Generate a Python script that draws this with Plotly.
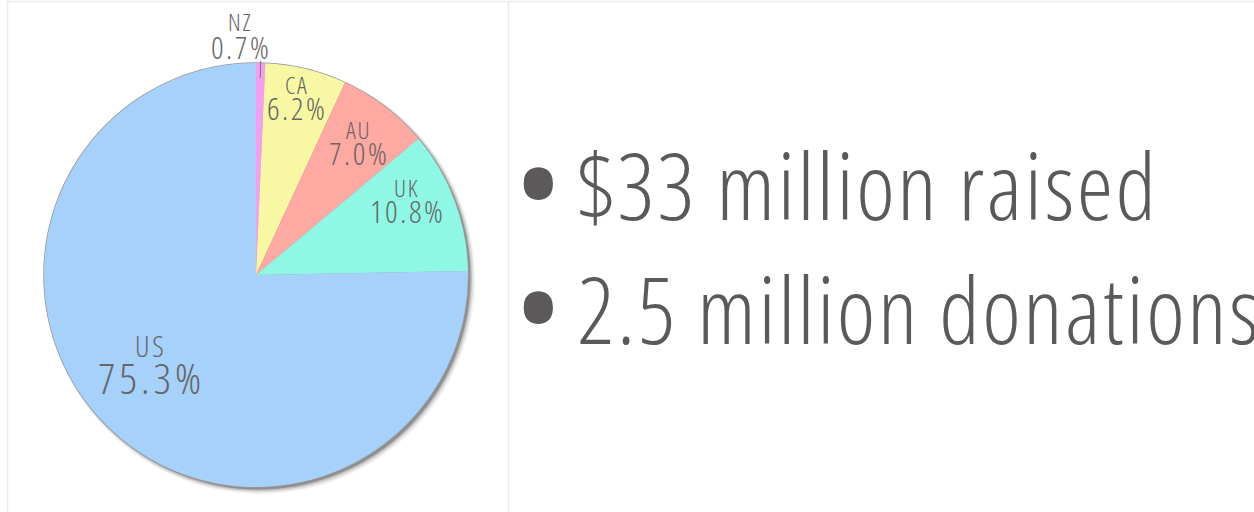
import math
import plotly.graph_objects as go

# ---- data ----
countries = ["NZ", "CA", "AU", "UK", "US"]
shares = [0.7, 6.2, 7.0, 10.8, 75.3]
slice_colors = ["#F59CF3", "#F8F8A4", "#FFA9A3", "#8FF8E5", "#A6D1FB"]
bullets = ["$33 million raised", "2.5 million donations"]

# ---- geometry (pixels) ----
W, H = 1254, 512
CX, CY, R = 256, 275, 212

def px(x):
    return x / W

def py(y):
    return 1 - y / H

FONT = "Open Sans"
LABEL_COLOR = "#666666"
TEXT_COLOR = "#5b5959"

def narrow(t, spacing):
    return f"<span style='font-stretch:condensed;letter-spacing:{spacing}px'>{t}</span>"

fig = go.Figure()
fig.add_trace(go.Pie(
    labels=countries,
    values=shares,
    sort=False,
    direction="clockwise",
    rotation=0,
    marker=dict(colors=slice_colors, line=dict(width=0)),
    textinfo="none",
    hoverinfo="label+percent",
    showlegend=False,
    domain=dict(x=[px(CX - R), px(CX + R)], y=[py(CY + R), py(CY - R)]),
))

shapes = []
# soft shadow under the pie
for off, grow, alpha in [(4, 3, 0.05), (3.5, 2, 0.08), (3, 1, 0.14), (2.5, 0, 0.25)]:
    shapes.append(dict(type="circle", xref="paper", yref="paper", layer="below",
                       x0=px(CX - R + off - grow), x1=px(CX + R + off + grow),
                       y0=py(CY + R + off + grow), y1=py(CY - R + off - grow),
                       fillcolor=f"rgba(0,0,0,{alpha})", line=dict(width=0)))
# thin outline
shapes.append(dict(type="circle", xref="paper", yref="paper", layer="below",
                   x0=px(CX - R - 0.8), x1=px(CX + R + 0.8),
                   y0=py(CY + R + 0.8), y1=py(CY - R - 0.8),
                   fillcolor="#9a9a9a", line=dict(width=0)))
# panel borders
border = "#ececec"
shapes.append(dict(type="line", xref="paper", yref="paper", x0=px(7), x1=1, y0=py(1.5), y1=py(1.5),
                   line=dict(color=border, width=1.5)))
shapes.append(dict(type="line", xref="paper", yref="paper", x0=px(7.5), x1=px(7.5), y0=py(1.5), y1=0,
                   line=dict(color=border, width=1.5)))
shapes.append(dict(type="line", xref="paper", yref="paper", x0=px(508.5), x1=px(508.5), y0=py(1.5), y1=0,
                   line=dict(color=border, width=1.5)))

# ---- slice labels, positioned from slice angles ----
label_style = {
    # name: (radial fraction, angle offset deg, name size, pct size, half gap px, xshift, spacing)
    "NZ": (1.13, 0, 24, 31, 13, -22, 2.5),
    "CA": (0.86, -1, 24, 31, 12, 0, 2.5),
    "AU": (0.79, 0, 24, 31, 12, 0, 2.5),
    "UK": (0.79, -6, 24, 31, 12, 0, 2.5),
    "US": (0.65, 6, 29, 43, 16, 0, 4),
}
total = sum(shares)
annotations = []
cum = 0.0
for name, val in zip(countries, shares):
    mid = (cum + val / 2) / total * 360.0
    cum += val
    frac, dang, s_name, s_pct, gap, xs, sp = label_style[name]
    a = math.radians(mid + dang)
    lx = CX + frac * R * math.sin(a) + xs
    ly = CY - frac * R * math.cos(a)
    pct = f"{val / total * 100:.1f}%"
    annotations.append(dict(x=px(lx + sp * 0.35), y=py(ly - gap - 1), xref="paper", yref="paper",
                            text=narrow(name, sp * 0.7),
                            showarrow=False, xanchor="center", yanchor="middle",
                            font=dict(family=FONT, size=s_name, weight=300, color=LABEL_COLOR)))
    annotations.append(dict(x=px(lx + sp * 0.5), y=py(ly + gap - 1), xref="paper", yref="paper",
                            text=narrow(pct, sp),
                            showarrow=False, xanchor="center", yanchor="middle",
                            font=dict(family=FONT, size=s_pct, weight=300, color=LABEL_COLOR)))
    if name == "NZ":
        x1 = CX + 1.01 * R * math.sin(a); y1 = CY - 1.01 * R * math.cos(a)
        x2 = CX + 0.93 * R * math.sin(a); y2 = CY - 0.93 * R * math.cos(a)
        shapes.append(dict(type="line", xref="paper", yref="paper", x0=px(x1), y0=py(y1),
                           x1=px(x2), y1=py(y2), line=dict(color="#777777", width=1)))

# ---- bullet text ----
for i, t in enumerate(bullets):
    yc = 184 + i * 124
    annotations.append(dict(x=px(538), y=py(yc - 4), xref="paper", yref="paper",
                            text="\u2022", showarrow=False, xanchor="center", yanchor="middle",
                            font=dict(family=FONT, size=140, weight=400, color=TEXT_COLOR)))
    annotations.append(dict(x=px(575), y=py(yc), xref="paper", yref="paper",
                            text=narrow(t, 2.5), showarrow=False, xanchor="left", yanchor="middle",
                            font=dict(family=FONT, size=92, weight=300, color=TEXT_COLOR)))

fig.update_layout(
    width=W, height=H,
    margin=dict(l=0, r=0, t=0, b=0),
    paper_bgcolor="white", plot_bgcolor="white",
    shapes=shapes, annotations=annotations,
)
fig.write_html("out.html")
